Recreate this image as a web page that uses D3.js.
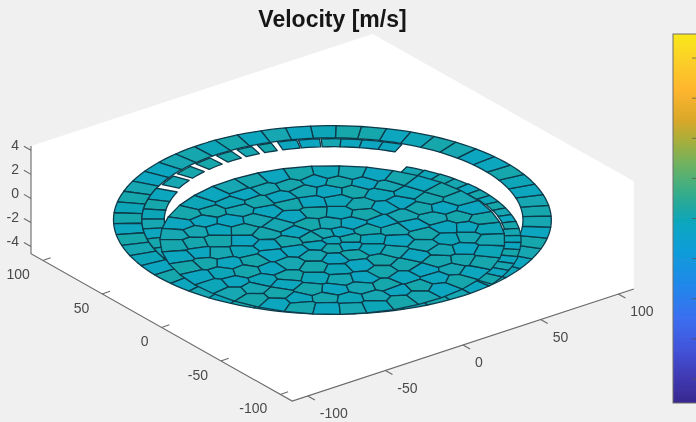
<!DOCTYPE html>
<html><head><meta charset="utf-8">
<script src="https://cdn.jsdelivr.net/npm/d3@7"></script>
<style>html,body{margin:0;padding:0;background:#f0f0f0}svg{display:block}text{font-family:"Liberation Sans",Arial,sans-serif}</style>
</head><body><svg id="c" width="696" height="422"></svg>
<script>
const title = "Velocity [m/s]";
const xTicks = [-100,-50,0,50,100];
const yTicks = [-100,-50,0,50,100];
const zTicks = [-4,-2,0,2,4];
const barTicks = [-4,-3,-2,-1,0,1,2,3,4];
const axisLimit = 110, zTop = 4.35, zBottom = -4.6, barLimit = 4.6;

// colour map
const barValues = [-4.6,-4,-3.3,-2.5,-1.65,-.8,-.16,.2,.71,1.33,1.95,2.44,3.2,3.95,4.6];
const barColors = ["#38288f","#3f38b0","#4252d8","#3b6ef0","#2088ea","#0e9dd8","#08a6c2","#1ba7a6","#3bae86","#6db262","#a9ae3a","#d8a82a","#ffb52e","#fbd028","#f9e81a"];

// geometry of the mesh, in data units
const outerRing = {r0:97.5, r1:112, z:-.33, start:2};
const outerValues = [.1,.05,-.12,-.05,.12,-.12,-.15,.05,.12,-.05,-.12,.12,.15,-.05,-.15,.05,-.12,.12,-.05,.1,.05,-.12,-.15,.05,.12,-.05,.12,-.12,.15,.05,-.05,-.15,.12,-.12,.05,-.05,.12,.1,-.12,-.05,.05,-.15,.12,-.05,.12,.05,-.12,.15,-.05,-.12,.05,.12,-.15,.05];
// upper-left pieces of the loose middle ring: azimuth from, azimuth to
const midFrom = [154,145,136,127.5,120,113,106.5,100,93,87,80.5,74];
const midTo   = [147,138.5,130,122,115,108.5,100.5,93.5,87,80.5,74,68];
const midValues = [.05,.12,.15,.12,.05,.12,-.12,-.15,.05,-.12,-.15,-.12];
const midR0 = 87, midR1 = 96.5, midZ = -.33;
// left part of the middle ring
const leftFrom = [157,165,172,179,186,193,200,207];
const leftTo   = [165,172,179,186,193,200,207,214];
const leftValues = [-.12,.12,-.05,.05,-.12,.12,.05,-.05];
const leftR0 = 86, leftR1 = 97.5;
// right part of the middle ring, lying at disc level
const rightFrom = [66,60,54.5,49,43.5,38,33,28,23,18,13,8,3,-2,-7,-12,-17,-22,-27];
const rightTo   = [60,54.5,49,43.5,38,33,28,23,18,13,8,3,-2,-7,-12,-17,-22,-27,-33];
const rightInner = [86,86,86,86.5,87.5,88.2,88.8,89.2,89.4,89.3,89,88,87,86,86,86,86,86,86];
const rightOuter = [95,95.5,96,96,96.5,96.5,96.5,96.5,96.5,96.5,96.5,96.5,96.5,96.5,96.5,97,97,97,97];
const rightValues = [.05,-.05,.12,.05,-.12,.12,-.05,.15,.05,-.12,.12,.05,-.05,-.15,.12,-.12,.05,-.15,.12];
const discZ = -2, discRadius = 88;
const seedRadii  = [0, 9.5, 21.5, 34, 46.5, 58.5, 70, 80];
const seedCounts = [1, 7, 12, 17, 23, 28, 34, 39];
const seedStarts = [0, 12, 3, 20, 8, 14, 2, 9];
const seedRadial = [1.3,-.9,.5,-1.4,.9,.2,-.6,1.6,-1.1,.3,1,-1.6,.7,-.3,1.2];
const seedAngular = [.8,-1.2,.3,1.5,-.7,-1.6,1,.2,-.4,1.3,-1,.6,-1.4,.4,1.1,-.2,-.9];
const ringValues = [
 [-.05],
 [.12,-.12,.05,.12,-.05,.12,-.12],
 [-.05,.12,-.15,.05,.15,-.12,.12,-.12,.05,-.15,.12,-.05],
 [.05,-.15,.12,-.05,.12,-.15,.05,.1,-.12,-.15,.05,.12,-.05,-.15,.12,.05,-.12],
 [.12,-.15,.05,-.12,.1,-.05,-.15,.12,-.12,.05,.1,-.15,-.05,.12,-.15,.12,-.05,.05,-.15,.12,.1,-.12,.05],
 [-.12,.05,.1,-.15,-.05,.12,-.15,.05,-.12,.1,.05,-.15,-.12,.12,.05,-.15,.1,-.05,-.12,.12,-.15,.05,.12,-.12,-.15,.1,.05,-.05],
 [.05,-.12,.12,-.15,.1,-.05,.05,-.15,.12,-.12,.1,.05,-.15,-.05,.12,-.12,.05,.1,-.15,.12,-.05,-.15,.05,.12,-.12,.1,-.05,.05,-.15,.12,-.12,.05,.1,-.15],
 [-.05,.12,-.15,.05,.12,-.12,.1,-.15,.05,-.05,.12,-.15,.1,.05,-.12,-.05,.12,-.15,.05,.1,-.12,.12,-.15,-.05,.05,.12,-.12,.1,-.15,.05,-.05,.12,.05,-.15,.12,-.12,.1,-.05,.05]
];

// screen azimuth 0 points right on the page; the data plane is turned by this
const azimuthTurn = -37;
const toRad = Math.PI/180;

const xDx = d3.scaleLinear([0,110],[0,170.8]), xDy = d3.scaleLinear([0,110],[0,-56.1]);
const yDx = d3.scaleLinear([0,110],[0,-130.6]), yDy = d3.scaleLinear([0,110],[0,-73.7]);
const zDy = d3.scaleLinear([-4.6,4.6],[55.3,-55.3]);
const cx = 332.4, cy = 216;
const P = (x,y,z) => [cx + xDx(x) + yDx(y), cy + xDy(x) + yDy(y) + zDy(z)];
const polar = (r,a) => [r*Math.cos((a+azimuthTurn)*toRad), r*Math.sin((a+azimuthTurn)*toRad)];

const color = d3.scaleLinear(barValues, barColors);
const svg = d3.select("#c");
const defs = svg.append("defs");
const soft = defs.append("filter").attr("id","soft").attr("x","-5%").attr("y","-5%").attr("width","110%").attr("height","110%");
soft.append("feGaussianBlur").attr("stdDeviation",0.55);
const softer = defs.append("filter").attr("id","softer");
softer.append("feGaussianBlur").attr("stdDeviation",0.35);
const line = d3.line();
const g = svg.append("g");

// white box
const L = axisLimit;
g.append("path").attr("fill","#fff").attr("filter","url(#soft)")
 .attr("d", line([P(-L,L,zTop),P(L,L,zTop),P(L,-L,zTop),P(L,-L,zBottom),P(-L,-L,zBottom),P(-L,L,zBottom)])+"Z");

// axes
const ax = g.append("g").attr("filter","url(#softer)").attr("fill","none").attr("stroke","#6a6a6a").attr("stroke-width",1.1);
ax.append("path").attr("d", line([P(-L,L,zTop),P(-L,L,zBottom),P(-L,-L,zBottom),P(L,-L,zBottom)]));
xTicks.forEach(t=>ax.append("path").attr("d",line([P(t,-L,zBottom),P(t,-L-6,zBottom)])));
yTicks.forEach(t=>ax.append("path").attr("d",line([P(-L,t,zBottom),P(-L+5,t,zBottom)])));
zTicks.forEach(t=>ax.append("path").attr("d",line([P(-L,L,t),P(-L,L+6,t)])));

const labels = g.append("g").attr("filter","url(#softer)").attr("font-size",14).attr("fill","#4a4a4a");
xTicks.forEach(t=>{const p=P(t,-L,zBottom);labels.append("text").attr("x",p[0]+12).attr("y",p[1]+22).text(t);});
yTicks.forEach(t=>{const p=P(-L,t,zBottom);labels.append("text").attr("text-anchor","end").attr("x",p[0]-13).attr("y",p[1]+19).text(t);});
zTicks.forEach(t=>{const p=P(-L,L,t);labels.append("text").attr("text-anchor","end").attr("x",p[0]-12).attr("y",p[1]).text(t);});

svg.append("text").attr("x",332.5).attr("y",27).attr("text-anchor","middle").attr("font-size",23).attr("font-weight","bold").attr("fill","#141414").attr("filter","url(#softer)").text(title);

// mesh
const mesh = g.append("g").attr("filter","url(#soft)").attr("stroke","#0d3a4a").attr("stroke-width",1.3).attr("stroke-linejoin","round");
const sector = (a0,a1,r0,r1,z,v) => {
  const steps = 3, pts = [];
  for(let i=0;i<=steps;i++){const a=a0+(a1-a0)*i/steps;const q=polar(r1,a);pts.push(P(q[0],q[1],z));}
  for(let i=steps;i>=0;i--){const a=a0+(a1-a0)*i/steps;const q=polar(r0,a);pts.push(P(q[0],q[1],z));}
  mesh.append("path").attr("d",line(pts)+"Z").attr("fill",color(v));
};
outerValues.forEach((v,i)=>{
  const step=360/outerValues.length, a=outerRing.start+i*step;
  sector(a,a+step,outerRing.r0,outerRing.r1,outerRing.z,v);
});
leftValues.forEach((v,i)=>sector(leftFrom[i],leftTo[i],leftR0,leftR1,midZ,v));
midValues.forEach((v,i)=>sector(midFrom[i],midTo[i],midR0,midR1,midZ,v));
rightValues.forEach((v,i)=>sector(rightFrom[i],rightTo[i],rightInner[i],rightOuter[i],discZ,v));

// disc: Voronoi cells around ring seeds, closed by a mirror ring outside the rim
const seeds = [], seedV = [];
let k = 0;
seedRadii.forEach((r,ri)=>{
  for(let i=0;i<seedCounts[ri];i++){
    const a = seedStarts[ri] + i*360/seedCounts[ri] + (r?seedAngular[k%seedAngular.length]*24/Math.max(r,18):0);
    const rr = r ? r + (ri<seedRadii.length-1 ? seedRadial[k%seedRadial.length] : 0) : 0;
    seeds.push(polar(rr,a)); seedV.push(ringValues[ri][i]); k++;
  }
});
const nReal = seeds.length;
const lastR = seedRadii[seedRadii.length-1], lastN = seedCounts[seedCounts.length-1], lastS = seedStarts[seedStarts.length-1];
for(let i=0;i<lastN;i++){
  const a = lastS + i*360/lastN + seedAngular[(nReal-lastN+i)%seedAngular.length]*24/lastR;
  seeds.push(polar(2*discRadius-lastR,a));
}
const vor = d3.Delaunay.from(seeds).voronoi([-200,-200,200,200]);
for(let i=0;i<nReal;i++){
  const poly = vor.cellPolygon(i); if(!poly) continue;
  mesh.append("path").attr("d",line(poly.map(q=>P(q[0],q[1],discZ)))+"Z").attr("fill",color(seedV[i]));
}

// colour bar
const barY = d3.scaleLinear([-barLimit,barLimit],[403,34]);
const grad = defs.append("linearGradient").attr("id","bar").attr("x1",0).attr("x2",0).attr("y1",1).attr("y2",0);
barValues.forEach((v,i)=>grad.append("stop").attr("offset",(v+barLimit)/(2*barLimit)).attr("stop-color",barColors[i]));
const bar = svg.append("g").attr("filter","url(#softer)");
bar.append("rect").attr("x",673).attr("y",barY(barLimit)).attr("width",30).attr("height",barY(-barLimit)-barY(barLimit)).attr("fill","url(#bar)").attr("stroke","#6f6f6f").attr("stroke-width",1);
barTicks.forEach(t=>bar.append("line").attr("x1",692).attr("x2",703).attr("y1",barY(t)).attr("y2",barY(t)).attr("stroke","#555").attr("stroke-opacity",.7));
</script></body></html>
